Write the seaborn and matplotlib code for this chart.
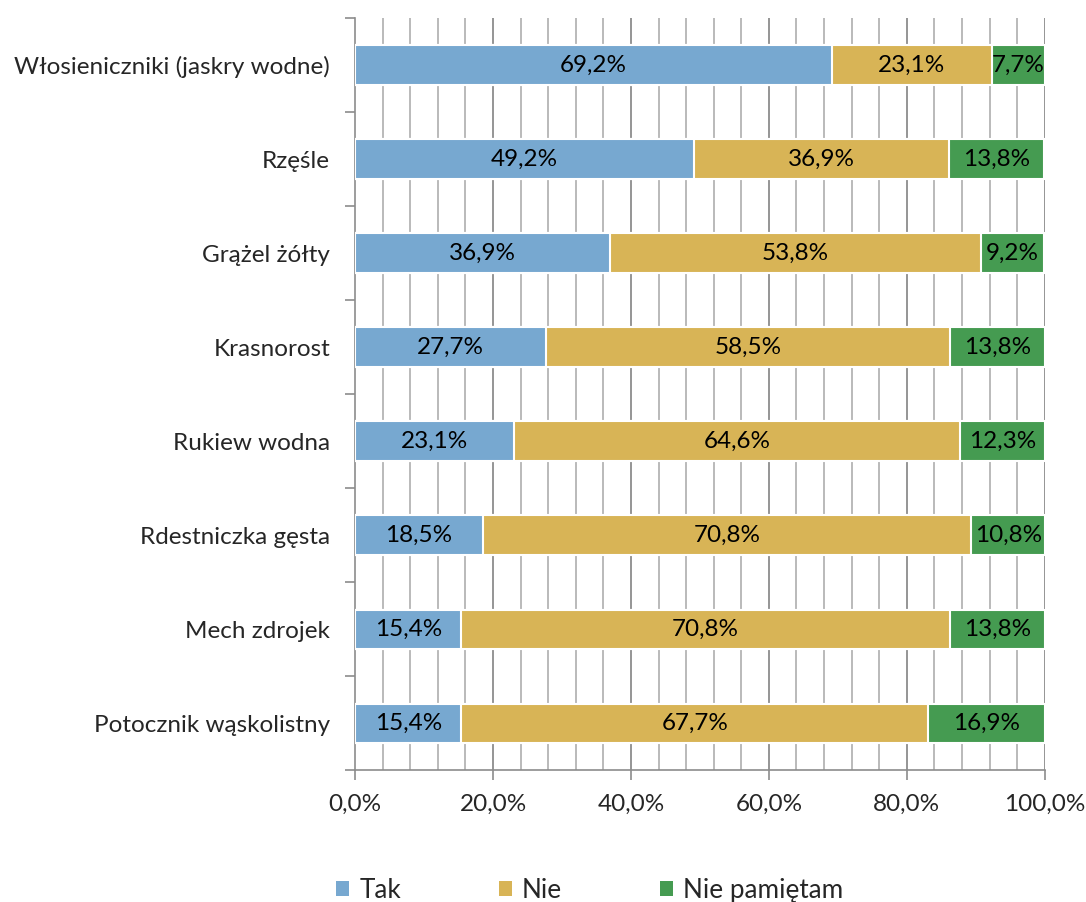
import matplotlib
matplotlib.use("Agg")
import matplotlib.pyplot as plt
import seaborn as sns
import numpy as np
import pandas as pd
from matplotlib.ticker import FixedLocator, FuncFormatter
from matplotlib.patches import Patch

categories = ["Włosieniczniki (jaskry wodne)", "Rzęśle", "Grążel żółty", "Krasnorost",
              "Rukiew wodna", "Rdestniczka gęsta", "Mech zdrojek", "Potocznik wąskolistny"]
tak = [69.2, 49.2, 36.9, 27.7, 23.1, 18.5, 15.4, 15.4]
nie = [23.1, 36.9, 53.8, 58.5, 64.6, 70.8, 70.8, 67.7]
nie_pam = [7.7, 13.8, 9.2, 13.8, 12.3, 10.8, 13.8, 16.9]
series_names = ["Tak", "Nie", "Nie pamiętam"]
colors = ["#77A8D0", "#D8B456", "#459B51"]
x_ticks = [0, 20, 40, 60, 80, 100]

sns.set_theme(style="white")
plt.rcParams['font.family'] = ['Lato', 'DejaVu Sans']

df = pd.DataFrame({"cat": categories, "Tak": tak, "Nie": nie, "NP": nie_pam})
df["c1"] = df["Tak"]
df["c2"] = df["Tak"] + df["Nie"]
df["c3"] = df["c2"] + df["NP"]

fig = plt.figure(figsize=(10.86, 9.02), dpi=100)
ax = fig.add_axes([0.327, 0.146, 0.635, 0.834])

for col, color in zip(["c3", "c2", "c1"], colors[::-1]):
    sns.barplot(data=df, y="cat", x=col, orient="h", color=color, width=0.42,
                edgecolor="white", linewidth=1.5, ax=ax, zorder=3, saturation=1)

def fmt(v):
    return f"{v:.1f}".replace(".", ",") + "%"

for i in range(len(categories)):
    starts = [0, tak[i], tak[i] + nie[i]]
    vals = [tak[i], nie[i], nie_pam[i]]
    for s, v in zip(starts, vals):
        ax.text(s + v / 2, i, fmt(v), ha="center", va="center", fontsize=17.5,
                color="black", zorder=5)

ax.set_xlim(0, 100)
ax.set_ylim(len(categories) - 0.5, -0.5)
ax.set_xlabel("")
ax.set_ylabel("")

# gridlines every 4%
for gx in np.arange(4, 101, 4):
    major = (gx % 20 == 0)
    ax.axvline(gx, color="#8C8C8C" if major else "#B4B4B4", lw=1.3, zorder=1)

ax.set_xticks(x_ticks)
ax.xaxis.set_major_formatter(FuncFormatter(lambda v, p: f"{v:.1f}".replace(".", ",") + "%"))
ax.tick_params(axis="x", direction="out", length=7, width=1.2, color="#8C8C8C",
               labelsize=17.5, pad=10, bottom=True)
ax.set_yticks(range(len(categories)))
ax.set_yticklabels(categories)
ax.tick_params(axis="y", which="major", length=0, labelsize=17.5, pad=18)
ax.yaxis.set_minor_locator(FixedLocator(np.arange(-0.5, len(categories), 1)))
ax.tick_params(axis="y", which="minor", left=True, direction="out", length=7, width=1.2, color="#8C8C8C")

for s in ["top", "right"]:
    ax.spines[s].set_visible(False)
for s in ["left", "bottom"]:
    ax.spines[s].set_color("#8C8C8C")
    ax.spines[s].set_linewidth(1.2)

handles = [Patch(facecolor=c, edgecolor="none") for c in colors]
fig.legend(handles, series_names, loc="center", bbox_to_anchor=(0.543, 0.013), ncol=3,
           frameon=False, fontsize=18.8, handlelength=0.5, handleheight=0.5,
           handletextpad=0.38, columnspacing=3.75)

fig.savefig("out.png", dpi=100)
